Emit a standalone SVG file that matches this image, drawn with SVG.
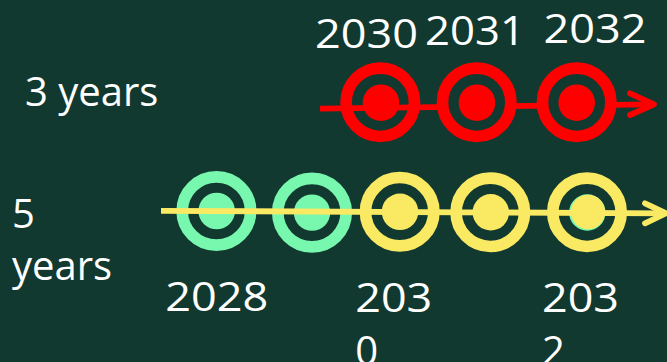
<svg xmlns="http://www.w3.org/2000/svg" width="667" height="362" viewBox="0 0 667 362">
<style>
.lbl{font-family:"Open Sans","Liberation Sans",sans-serif;font-size:40px;fill:#ffffff}
.ring{stroke-width:11.7}
.red .ring{stroke:#ff0000}
.red .dot{fill:#ff0000}
.grn .ring{stroke:#78f7ae}
.grn .dot{fill:#78f7ae}
.yel .ring{stroke:#f9e963}
.yel .dot{fill:#f9e963}
.open{fill:none}
.solid{fill:#11392f}
.line{fill:none;stroke-width:5.8;stroke-linecap:butt}
.head{fill:none;stroke-width:5.8;stroke-linecap:round;stroke-linejoin:round}
</style>
<rect width="667" height="362" fill="#11392f"/>

<g id="labels">
<text class="lbl" x="25" y="105.7">3 years</text>
<text class="lbl" x="12" y="227.5"><tspan x="12">5</tspan><tspan x="12" dy="52.5">years</tspan></text>
</g>

<g id="top-2030-label"><text class="lbl" x="315" y="48.3" textLength="103" lengthAdjust="spacingAndGlyphs">2030</text></g>
<g id="top-2031-label"><text class="lbl" x="425" y="45" textLength="100" lengthAdjust="spacingAndGlyphs">2031</text></g>
<g id="top-2032-label"><text class="lbl" x="543.5" y="42.7" textLength="103" lengthAdjust="spacingAndGlyphs">2032</text></g>

<g id="node-t2030" class="red">
<circle class="ring open" cx="380.3" cy="102.3" r="34.2"/>
<circle class="dot" cx="381" cy="102.7" r="18.3"/>
</g>

<g id="connector-top" class="red">
<path class="line" d="M320 108.7 L652 104.3" stroke="#ff0000"/>
<path class="head" d="M630 93.3 L654 104.3 L630 115" stroke="#ff0000"/>
</g>

<g id="node-t2031" class="red">
<circle class="ring solid" cx="476.7" cy="102.3" r="34.2"/>
<circle class="dot" cx="477" cy="102.7" r="18.3"/>
</g>
<g id="node-t2032" class="red">
<circle class="ring solid" cx="576.7" cy="102.3" r="34.2"/>
<circle class="dot" cx="576.7" cy="102.7" r="18.3"/>
</g>

<g id="node-b1" class="grn">
<circle class="ring open" cx="216.4" cy="211" r="34.2"/>
<circle class="dot" cx="216.7" cy="211" r="18.3"/>
</g>
<g id="node-b2" class="grn">
<circle class="ring open" cx="312" cy="212.6" r="34.2"/>
<circle class="dot" cx="312" cy="212.6" r="18.2"/>
</g>
<g id="node-b3" class="yel">
<circle class="ring open" cx="399.7" cy="211.7" r="34.2"/>
<circle class="dot" cx="400" cy="211.8" r="18.3"/>
</g>
<g id="node-b4" class="yel">
<circle class="ring open" cx="490.3" cy="212.3" r="34.2"/>
<circle class="dot" cx="490.8" cy="212.3" r="18.2"/>
</g>
<g id="node-b5" class="yel">
<circle class="ring open" cx="587" cy="212.3" r="34.2"/>
<circle cx="587.3" cy="212.5" r="18.2" fill="#78f7ae"/>
<circle class="dot" cx="588" cy="212" r="17.2"/>
</g>

<g id="connector-bottom">
<path class="line" d="M161 210.8 L664 213.3" stroke="#f9e963"/>
<path class="head" d="M645 203.3 L666 213.3 L645 223.3" stroke="#f9e963"/>
</g>

<g id="bottom-labels">
<text class="lbl" x="165.3" y="310.7" textLength="103" lengthAdjust="spacingAndGlyphs">2028</text>
<text class="lbl" y="311.7"><tspan x="355.3" textLength="77" lengthAdjust="spacingAndGlyphs">203</tspan><tspan x="355.3" dy="53.3">0</tspan></text>
<text class="lbl" y="311.7"><tspan x="542" textLength="77" lengthAdjust="spacingAndGlyphs">203</tspan><tspan x="542" dy="53.3">2</tspan></text>
</g>
</svg>
